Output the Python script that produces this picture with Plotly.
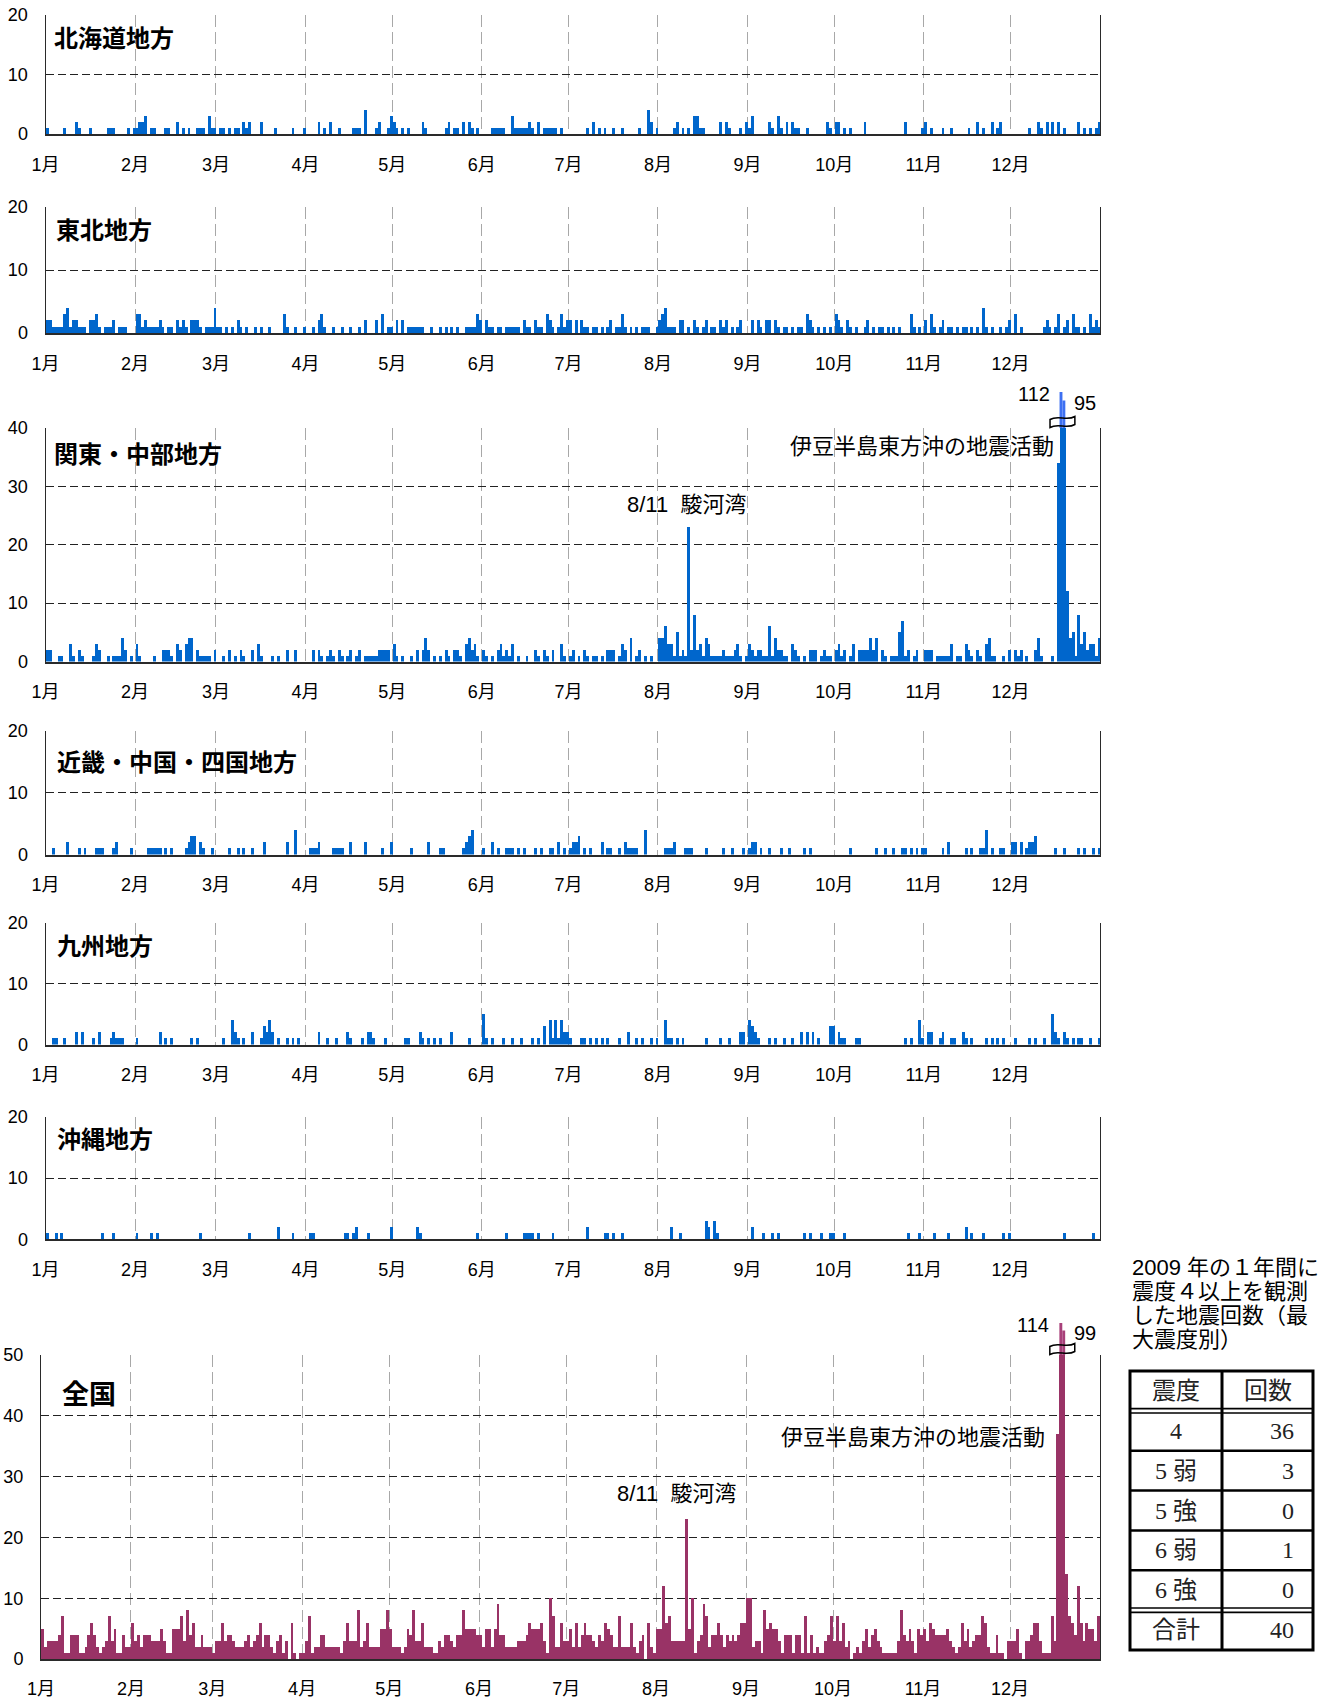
import plotly.graph_objects as go

W, H = 1330, 1698

MONTH_LABELS = ["1月", "2月", "3月", "4月", "5月", "6月", "7月", "8月", "9月", "10月", "11月", "12月"]
MONTH_LENGTHS = [31, 28, 31, 30, 31, 30, 31, 31, 30, 31, 30, 31]

# daily counts (felt earthquakes, 2009), one string per month
HOKKAIDO = [
    "1 0 0 0 0 0 1 0 0 0 2 1 0 0 0 1 0 0 0 0 0 1 1 1 0 0 0 0 1 0 1",
    "1 2 2 3 0 1 1 0 0 0 1 1 0 0 2 0 1 0 1 0 0 1 1 1 0 3 1 1",
    "0 1 1 0 1 0 1 1 0 2 1 2 0 0 0 2 0 0 0 0 1 0 0 0 0 0 1 0 0 0 1",
    "0 0 0 0 2 0 1 0 2 0 0 1 0 0 0 0 1 1 1 0 4 0 0 0 1 2 0 0 1 3",
    "2 1 0 1 0 1 0 0 0 0 2 1 0 0 0 0 0 0 1 2 0 1 1 0 2 0 2 1 0 1 0",
    "0 0 0 1 1 1 1 1 0 0 3 1 1 1 1 1 2 1 0 2 0 1 1 1 1 1 0 1 0 0",
    "0 0 0 0 0 0 1 0 2 0 1 0 1 0 0 1 0 0 1 0 0 0 0 0 1 0 0 4 2 0 1",
    "0 0 0 0 0 1 2 0 1 0 1 0 3 3 1 1 0 0 0 0 0 2 0 2 1 0 0 0 1 0 2",
    "1 3 0 0 0 0 0 2 1 0 3 1 0 2 0 2 1 1 0 0 1 0 0 0 0 0 0 2 1 0",
    "2 2 0 1 0 1 0 0 0 0 2 0 0 0 0 0 0 0 0 0 0 0 0 0 2 0 0 0 0 0 1",
    "2 0 1 0 0 0 1 0 0 1 0 0 0 0 0 1 0 0 2 0 1 0 0 2 0 1 2 0 0 0",
    "0 0 0 0 0 0 1 0 0 2 1 0 2 0 2 0 2 0 1 0 0 0 0 2 0 1 0 1 0 1 2",
]
TOHOKU = [
    "2 2 1 1 1 1 3 4 1 2 2 1 1 1 0 2 2 3 1 0 1 1 1 2 0 1 1 1 0 0 0",
    "3 3 1 2 1 1 1 1 2 1 0 1 1 0 2 1 2 1 0 2 2 2 1 0 1 1 1 4",
    "1 1 0 1 0 1 0 2 1 0 1 0 0 1 0 1 0 0 1 0 0 0 0 3 1 0 0 1 0 0 1",
    "0 0 1 0 2 3 1 0 0 1 0 0 1 0 0 1 0 0 1 0 2 0 0 0 2 0 3 0 1 1",
    "0 2 0 2 0 1 1 1 1 1 1 0 0 1 0 0 1 0 1 0 1 0 1 0 0 1 1 1 1 3 2",
    "0 2 1 1 0 1 1 0 1 1 1 1 1 0 2 1 1 0 2 1 1 0 3 2 1 0 1 3 1 2",
    "2 0 2 0 2 1 1 0 1 1 0 1 0 1 2 0 1 1 3 1 0 1 0 1 0 1 1 1 0 0 1",
    "2 3 4 1 1 1 0 2 2 0 1 0 2 1 0 1 2 0 1 1 0 2 1 2 0 1 0 1 2 0 0",
    "0 2 0 2 1 0 2 2 0 2 1 0 1 1 0 1 0 1 1 0 3 2 1 0 1 0 1 0 1 0",
    "3 2 1 0 2 1 0 1 0 0 1 2 0 1 0 1 1 0 1 0 1 0 1 0 0 0 3 1 0 1 0",
    "2 0 3 1 0 1 2 0 1 1 0 1 0 1 1 0 1 0 1 0 4 1 0 1 0 0 1 0 1 2",
    "0 3 0 1 0 0 0 0 0 0 0 1 2 1 0 1 3 0 1 2 0 3 1 1 0 1 0 3 1 2 1",
]
KANTO_CHUBU = [
    "2 2 0 0 1 1 0 0 3 1 0 2 1 0 0 0 1 3 2 0 0 1 0 1 1 1 4 2 0 1 0",
    "3 1 0 0 0 0 1 0 0 2 2 2 1 0 3 2 0 3 4 4 0 2 1 1 1 1 0 2",
    "0 0 1 0 2 0 1 0 2 1 0 0 2 0 3 1 0 0 0 1 0 1 0 0 2 0 0 2 0 0 0",
    "0 0 2 0 2 1 0 1 2 1 0 2 1 0 1 2 0 1 2 0 1 1 1 1 1 2 2 2 2 0",
    "3 1 0 1 0 0 1 0 2 0 2 4 2 0 1 0 1 0 2 1 0 2 2 1 0 3 4 2 3 1 0",
    "2 1 0 1 0 2 3 1 2 1 3 0 1 0 0 1 0 0 2 1 0 2 1 0 2 0 0 3 1 0",
    "1 2 0 1 0 2 1 0 1 1 0 1 0 2 2 2 0 1 3 2 0 4 0 1 2 0 1 0 1 0 0",
    "4 4 6 3 3 1 5 1 2 1 23 2 8 2 3 1 4 3 1 1 1 1 2 1 1 1 2 3 1 0 1",
    "3 2 1 2 2 1 1 6 1 4 2 2 1 1 0 3 2 1 0 1 0 2 2 2 0 1 2 1 1 0",
    "2 3 1 2 0 1 3 0 2 2 2 2 4 2 4 0 2 1 0 1 1 1 5 7 1 2 0 1 2 0 0",
    "2 2 2 0 1 1 1 1 1 3 0 1 1 0 3 2 1 0 2 1 0 3 4 1 1 0 0 1 0 2",
    "0 2 1 2 0 1 0 0 2 4 1 0 0 0 1 0 34 112 95 12 4 5 1 8 3 5 2 3 3 1 4",
]
KINKI_CHUGOKU_SHIKOKU = [
    "0 0 1 0 0 0 0 2 0 0 0 1 0 1 0 0 0 1 1 1 0 0 0 1 2 0 0 0 0 1 0",
    "0 0 0 0 1 1 1 1 1 0 1 0 1 0 0 0 0 1 2 3 3 0 2 1 0 0 1 0",
    "0 0 0 0 1 0 0 1 0 1 0 0 1 0 0 0 2 0 0 0 0 0 0 0 2 0 0 4 0 0 0",
    "0 1 1 1 2 0 0 0 0 1 1 1 1 0 0 2 0 0 0 0 2 0 0 0 0 0 1 0 0 2",
    "0 0 0 0 0 0 1 0 0 0 0 0 2 0 0 0 1 1 0 0 0 0 0 0 1 2 3 4 0 0 0",
    "1 0 0 2 0 1 0 0 1 1 1 0 1 0 1 0 0 0 1 0 1 0 0 1 1 0 2 0 1 0",
    "1 2 2 3 0 1 0 1 0 0 0 2 0 1 1 0 0 1 0 2 1 1 1 1 0 0 4 0 0 0 0",
    "0 0 1 1 1 2 0 0 0 1 1 1 0 0 0 0 1 0 0 0 0 0 1 0 0 1 0 0 0 1 0",
    "1 2 2 0 1 0 0 1 0 0 0 1 0 0 1 0 0 0 0 1 0 1 0 0 0 0 0 0 0 0",
    "0 0 0 0 0 1 0 0 0 0 0 0 0 0 1 0 0 1 0 0 1 0 0 1 1 0 1 0 1 0 1",
    "1 0 0 0 0 0 1 0 2 0 0 0 0 0 1 0 1 0 0 1 1 4 0 1 0 0 1 1 0 0",
    "2 2 0 2 0 1 2 2 3 0 0 0 0 0 0 1 0 0 1 0 0 0 0 1 0 1 0 0 1 0 1",
]
KYUSHU = [
    "0 0 1 1 0 0 1 0 0 0 2 0 2 0 0 0 1 0 2 0 0 0 1 2 1 1 1 0 0 0 0",
    "1 0 0 0 0 0 0 0 2 0 1 0 1 0 0 0 0 0 0 1 0 1 0 0 0 0 0 0",
    "0 0 1 0 0 4 2 1 0 1 0 0 2 0 0 1 3 2 4 2 0 1 0 0 1 0 1 0 1 0 0",
    "0 0 0 0 2 0 0 1 0 0 1 0 0 0 2 1 0 0 0 1 0 2 2 1 0 0 0 1 0 0",
    "0 0 0 0 1 1 0 0 0 2 1 0 1 0 1 0 1 0 0 0 2 0 0 0 0 0 1 0 0 0 0",
    "5 1 0 1 0 0 0 1 0 0 1 0 0 1 0 0 0 1 0 1 0 3 0 4 1 4 1 4 2 2",
    "1 0 0 0 1 1 0 1 0 1 0 1 0 1 0 0 0 1 0 0 2 0 0 1 0 1 0 0 1 0 1",
    "0 0 4 1 1 0 1 0 1 0 0 0 0 0 0 0 1 0 0 0 0 1 0 0 1 0 0 0 2 2 0",
    "4 3 2 1 0 0 0 1 0 1 0 0 1 0 0 1 0 0 2 0 2 0 2 0 1 0 0 0 3 3",
    "0 2 1 1 0 0 0 1 1 0 0 0 0 0 0 0 0 0 0 0 0 0 0 0 1 0 1 0 0 4 1",
    "0 2 2 0 0 1 2 0 0 1 1 0 0 2 1 0 1 0 0 0 0 1 0 1 0 1 0 1 0 0",
    "0 1 0 0 0 0 1 0 1 0 0 1 0 0 5 2 1 0 2 1 0 1 0 1 1 0 0 1 0 0 1",
]
OKINAWA = [
    "1 0 0 1 0 1 0 0 0 0 0 0 0 0 0 0 0 0 0 1 0 0 0 1 0 0 0 0 0 0 0",
    "1 0 0 0 0 1 0 1 0 0 0 0 0 0 0 0 0 0 0 0 0 0 1 0 0 0 0 0",
    "0 0 0 0 0 0 0 0 0 0 0 1 0 0 0 0 0 0 0 0 0 2 0 0 0 0 1 0 0 0 0",
    "0 1 1 0 0 0 0 0 0 0 0 0 0 1 1 0 1 2 0 0 0 1 0 0 0 0 0 0 0 2",
    "0 0 0 0 0 0 0 0 2 1 0 0 0 0 0 0 0 0 0 0 0 0 0 0 0 0 0 0 0 1 0",
    "0 0 0 0 0 0 0 0 1 0 0 0 0 0 1 1 1 1 0 1 0 0 0 0 1 0 0 0 0 0",
    "0 0 0 0 0 0 2 0 0 0 0 0 1 1 0 1 0 0 1 0 0 0 0 0 0 0 0 0 0 0 0",
    "0 0 0 0 2 0 0 1 0 0 0 0 0 0 0 0 3 2 0 3 1 0 0 0 0 0 0 0 0 0 0",
    "0 2 0 0 0 1 0 0 1 0 1 0 0 0 0 0 0 0 0 1 0 1 0 0 0 1 0 0 1 1",
    "0 0 0 1 0 0 0 0 0 0 0 0 0 0 0 0 0 0 0 0 0 0 0 0 0 1 0 0 0 1 0",
    "0 0 0 1 0 0 0 0 1 0 0 0 0 0 2 0 1 0 0 0 1 0 0 0 0 0 0 1 0 1",
    "0 0 0 0 0 0 0 0 0 0 0 0 0 0 0 0 0 0 1 0 0 0 0 0 0 0 0 0 1 0 0",
]
NATIONWIDE = [
    "5 2 3 3 3 3 4 7 1 1 4 4 4 1 1 2 4 6 4 2 1 2 3 7 3 5 1 1 4 2 2",
    "6 3 4 2 4 4 4 3 3 3 5 3 1 1 5 5 5 7 3 8 4 6 2 2 4 2 2 2",
    "1 3 3 6 3 4 4 3 2 2 2 3 4 2 3 4 6 2 4 4 2 1 3 4 1 3 0 6 1 0 1",
    "1 3 7 1 2 2 4 4 2 2 2 2 2 1 3 6 3 3 3 8 2 3 6 2 2 2 2 5 5 8",
    "5 2 2 2 1 2 5 4 8 3 3 6 2 2 2 1 1 3 2 4 4 3 2 4 4 8 5 5 5 5 4",
    "4 2 5 5 2 5 9 4 4 2 2 2 2 3 3 3 4 6 5 5 5 6 3 1 10 7 2 2 6 3",
    "3 5 2 6 2 4 6 4 4 3 2 4 3 6 5 4 2 2 7 2 2 2 6 2 1 3 4 0 6 2 1",
    "5 5 12 6 7 3 3 3 3 3 23 5 10 1 3 4 9 7 2 4 4 6 4 2 4 3 4 3 4 6 6",
    "10 10 2 3 3 1 8 5 6 5 5 3 1 4 4 4 1 4 4 1 7 1 4 1 2 1 1 3 4 7",
    "3 7 3 6 2 3 0 1 2 1 3 5 2 4 5 3 2 1 1 1 1 1 3 8 4 3 5 3 1 5 4",
    "5 3 6 5 4 4 4 4 5 3 2 1 2 6 3 5 2 3 4 4 7 6 2 1 1 4 1 1 0 3",
    "3 3 5 1 0 3 3 4 6 6 3 1 1 1 7 3 37 114 99 14 7 6 4 12 6 3 6 5 5 3 7",
]

REGION_NAMES = ["北海道地方", "東北地方", "関東・中部地方", "近畿・中国・四国地方", "九州地方", "沖縄地方", "全国"]
Y_MAX = [20, 20, 40, 20, 20, 20, 50]

ANNOT_IZU = "伊豆半島東方沖の地震活動"
ANNOT_SURUGA = "8/11  駿河湾"
SURUGA_DAY = 222  # 0-based day index of Aug 11

TABLE_TITLE = ["2009 年の１年間に", "震度４以上を観測", "した地震回数（最", "大震度別）"]
TABLE_HEAD = ["震度", "回数"]
INTENSITY = ["4", "5 弱", "5 強", "6 弱", "6 強"]
COUNTS = [36, 3, 0, 1, 0]
TOTAL_LABEL = "合計"

# ---------------------------------------------------------------- layout
SANS = "Liberation Sans, Arial, Noto Sans CJK JP, sans-serif"
SERIF = "Liberation Serif, Times New Roman, Noto Sans CJK JP, serif"
BLUE, BLUE_OVER = "#0066CC", "#3D70F2"
WINE, WINE_OVER = "#993366", "#A8407A"

# plot boxes in pixels (left, right, top, bottom)
BOXES = [(45.5, 1100, 15, 134), (45.5, 1100, 207, 333), (45.5, 1100, 428, 661.5),
         (45.5, 1100, 731, 854.5), (45.5, 1100, 923, 1044.5), (45.5, 1100, 1117, 1239.3),
         (41, 1100, 1355, 1659)]
TITLE_POS = [(52, 38), (54, 231), (52, 454), (55, 762), (55, 947), (55, 1139), (60, 1395)]
OVER_PX_PER_UNIT = 0.5


def px(x):
    return x / W


def py(y):
    return 1 - y / H


def daily(months):
    vals = []
    for s in months:
        vals.extend(int(t) for t in s.split())
    return vals


series = [daily(m) for m in (HOKKAIDO, TOHOKU, KANTO_CHUBU, KINKI_CHUGOKU_SHIKOKU, KYUSHU, OKINAWA, NATIONWIDE)]
month_starts = []
acc = 0
for n in MONTH_LENGTHS:
    month_starts.append(acc)
    acc += n
ndays = acc

fig = go.Figure()
layout = {}
shapes = []
annotations = []

for k, (name, vals, ymax) in enumerate(zip(REGION_NAMES, series, Y_MAX), start=1):
    l, r, t, b = BOXES[k - 1]
    national = (k == 7)
    color, over_color = (WINE, WINE_OVER) if national else (BLUE, BLUE_OVER)
    xa = "x" if k == 1 else f"x{k}"
    ya = "y" if k == 1 else f"y{k}"
    fig.add_trace(go.Bar(x=list(range(len(vals))), y=vals, width=1.0,
                         marker=dict(color=color, line=dict(width=0)),
                         xaxis=xa, yaxis=ya, hoverinfo="skip"))
    sfx = "" if k == 1 else str(k)
    layout["xaxis" + sfx] = dict(
        domain=[px(l), px(r)], anchor=ya, range=[-0.5, ndays - 0.5],
        tickmode="array", tickvals=[s - 0.5 for s in month_starts], ticktext=MONTH_LABELS,
        showgrid=True, gridcolor="#a8a8a8", griddash="12px,5px", gridwidth=1,
        showline=True, linecolor="#2a2a2a", linewidth=2, mirror=False,
        ticks="", ticklabelstandoff=12 if national else 13,
        tickfont=dict(size=18, family=SANS, color="#000"),
        zeroline=False, automargin=False, fixedrange=True)
    layout["yaxis" + sfx] = dict(
        domain=[py(b), py(t)], anchor=xa, range=[0, ymax],
        tickmode="array", tickvals=list(range(0, ymax + 1, 10)),
        showgrid=True, gridcolor="#222222", griddash="8px,4px", gridwidth=1,
        showline=True, linecolor="#2a2a2a", linewidth=1, mirror=True,
        ticks="", ticklabelstandoff=13, tickfont=dict(size=18, family=SANS, color="#000"),
        zeroline=False, automargin=False, fixedrange=True)

    tx, ty = TITLE_POS[k - 1]
    annotations.append(dict(
        text=f"<b>{name}</b>", xref="paper", yref="paper", x=px(tx), y=py(ty),
        xanchor="left", yanchor="middle", showarrow=False,
        font=dict(size=27 if national else 24, family=SANS, color="#000")))

    # overflow bars (values above the axis maximum), broken-axis style
    over = [(i, v) for i, v in enumerate(vals) if v > ymax]
    if over:
        top_p = py(t)
        days_over = [i for i, _ in over]
        cx = (days_over[0] + days_over[-1]) / 2
        hw = 4.3
        yt, yb = t - 10, t - 2
        a = 3.5

        def brk(fill, line_w):
            path = (f"M {cx - hw},{py(yt + 1.5)} "
                    f"C {cx - hw / 3},{py(yt - a)} {cx + hw / 3},{py(yt + a)} {cx + hw},{py(yt - 1.5)} "
                    f"L {cx + hw},{py(yb - 1.5)} "
                    f"C {cx + hw / 3},{py(yb + a)} {cx - hw / 3},{py(yb - a)} {cx - hw},{py(yb + 1.5)} Z")
            return dict(type="path", xref=xa, yref="paper", path=path,
                        fillcolor=fill, line=dict(color="#000", width=line_w), layer="above")

        shapes.append(brk("white", 0))
        for i, v in over:
            shapes.append(dict(type="rect", xref=xa, yref="paper",
                               x0=i - 0.5, x1=i + 0.5,
                               y0=top_p, y1=top_p + (v - ymax) * OVER_PX_PER_UNIT / H,
                               fillcolor=over_color, line=dict(width=0), layer="above"))
        shapes.append(brk("rgba(0,0,0,0)", 1.5))
        for j, (i, v) in enumerate(over):
            ytop = top_p + (v - ymax) * OVER_PX_PER_UNIT / H
            first = (j == 0)
            annotations.append(dict(
                text=str(v), xref=xa, yref="paper",
                x=i - 0.5 if first else i + 0.5, y=ytop,
                xanchor="right" if first else "left", yanchor="middle",
                xshift=-8 if first else 7, yshift=-2, showarrow=False,
                font=dict(size=20, family=SANS, color="#000")))

    if k in (3, 7):
        # event labels
        izu_y = 447 if k == 3 else 1437
        izu_r = 1056 if k == 3 else 1047
        annotations.append(dict(
            text=ANNOT_IZU, xref="paper", yref="paper", x=px(izu_r), y=py(izu_y),
            xanchor="right", yanchor="middle", showarrow=False,
            font=dict(size=22, family=SANS, color="#000")))
        sur_y = 504 if k == 3 else 1493
        annotations.append(dict(
            text=ANNOT_SURUGA, xref=xa, yref="paper", x=SURUGA_DAY, y=py(sur_y),
            xanchor="center", yanchor="middle", xshift=-2 if k == 3 else -10, showarrow=False,
            font=dict(size=22, family=SANS, color="#000")))

# ---------------------------------------------------------------- table
for j, line in enumerate(TABLE_TITLE):
    annotations.append(dict(
        text=line, xref="paper", yref="paper", x=px(1130), y=py(1267 + 24 * j),
        xanchor="left", yanchor="middle", showarrow=False,
        font=dict(size=22, family=SANS, color="#000")))

TX0, TX1, TXM = 1130, 1313, 1222
TY0, TY1 = 1371, 1650
nrows = 2 + len(INTENSITY)
rh = (TY1 - TY0) / nrows
row_y = [TY0 + rh * i for i in range(nrows + 1)]

shapes.append(dict(type="rect", xref="paper", yref="paper", x0=px(TX0), x1=px(TX1),
                   y0=py(TY0), y1=py(TY1), line=dict(color="#000", width=3)))
shapes.append(dict(type="line", xref="paper", yref="paper", x0=px(TXM), x1=px(TXM),
                   y0=py(TY0), y1=py(TY1), line=dict(color="#000", width=3)))
for i in range(1, nrows):
    yy = row_y[i]
    if i in (1, nrows - 1):
        for d in (-2.2, 2.2):
            shapes.append(dict(type="line", xref="paper", yref="paper", x0=px(TX0), x1=px(TX1),
                               y0=py(yy + d), y1=py(yy + d), line=dict(color="#000", width=1.6)))
    else:
        shapes.append(dict(type="line", xref="paper", yref="paper", x0=px(TX0), x1=px(TX1),
                           y0=py(yy), y1=py(yy), line=dict(color="#000", width=2.5)))

cells = [(TABLE_HEAD[0], TABLE_HEAD[1], "center")]
cells += [(lab, str(c), "right") for lab, c in zip(INTENSITY, COUNTS)]
cells += [(TOTAL_LABEL, str(sum(COUNTS)), "right")]
for i, (c1, c2, align2) in enumerate(cells):
    yc = (row_y[i] + row_y[i + 1]) / 2
    annotations.append(dict(text=c1, xref="paper", yref="paper", x=px((TX0 + TXM) / 2), y=py(yc),
                            xanchor="center", yanchor="middle", showarrow=False,
                            font=dict(size=24, family=SERIF, color="#222")))
    if align2 == "center":
        annotations.append(dict(text=c2, xref="paper", yref="paper", x=px((TXM + TX1) / 2), y=py(yc),
                                xanchor="center", yanchor="middle", showarrow=False,
                                font=dict(size=24, family=SERIF, color="#222")))
    else:
        annotations.append(dict(text=c2, xref="paper", yref="paper", x=px(TX1 - 17), y=py(yc),
                                xanchor="right", yanchor="middle", showarrow=False,
                                font=dict(size=24, family=SERIF, color="#222")))

fig.update_layout(
    width=W, height=H, margin=dict(l=0, r=0, t=0, b=0), template="none",
    paper_bgcolor="white", plot_bgcolor="white", showlegend=False, bargap=0,
    font=dict(family=SANS, size=16, color="#000"),
    shapes=shapes, annotations=annotations, **layout)

fig.write_html("out.html", config={"displayModeBar": False},
               post_script="document.body.style.margin='0';document.body.style.overflow='hidden';")
